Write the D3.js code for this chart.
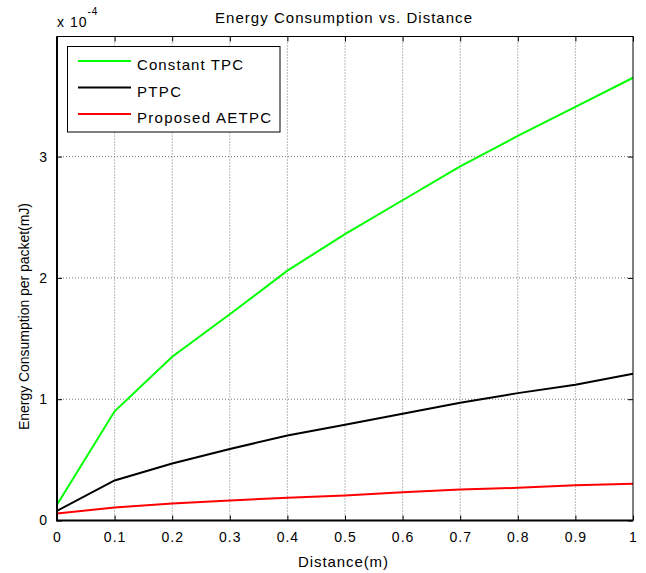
<!DOCTYPE html>
<html><head><meta charset="utf-8">
<script src="https://cdn.jsdelivr.net/npm/d3@7"></script>
<style>body{margin:0;background:#fff}svg{display:block}text{font-family:"Liberation Sans",Arial,sans-serif}</style>
</head><body>
<script>
const distances = [0,0.1,0.2,0.3,0.4,0.5,0.6,0.7,0.8,0.9,1.0];
const constantTPC = [0.13,0.90,1.35,1.70,2.06,2.36,2.64,2.92,3.17,3.41,3.65];
const ptpc = [0.08,0.33,0.47,0.59,0.70,0.79,0.88,0.97,1.05,1.12,1.21];
const aetpc = [0.058,0.107,0.14,0.165,0.187,0.206,0.233,0.256,0.269,0.291,0.302];
const seriesNames = ["Constant TPC","PTPC","Proposed AETPC"];
const seriesColors = ["#00ff00","#000000","#ff0000"];
const xTicks = [0,0.1,0.2,0.3,0.4,0.5,0.6,0.7,0.8,0.9,1];
const yTicks = [0,1,2,3];

const W=646,H=573;
const m={l:57,t:36.5,r:633,b:520.5};
const svg=d3.select("body").append("svg").attr("width",W).attr("height",H);
const x=d3.scaleLinear().domain([0,1]).range([m.l,m.r]);
const y=d3.scaleLinear().domain([0,3.99]).range([m.b,m.t]);

// grid
const g=svg.append("g");
g.selectAll(".vg").data(xTicks.slice(1,-1)).join("line")
 .attr("x1",d=>x(d)).attr("x2",d=>x(d)).attr("y1",m.t).attr("y2",m.b)
 .attr("stroke","#777").attr("stroke-width",1).attr("stroke-dasharray","1,2");
g.selectAll(".hg").data(yTicks.slice(1)).join("line")
 .attr("y1",d=>y(d)).attr("y2",d=>y(d)).attr("x1",m.l).attr("x2",m.r)
 .attr("stroke","#777").attr("stroke-width",1).attr("stroke-dasharray","1,2");

// axes
const xa=d3.axisBottom(x).tickValues(xTicks).tickSize(-5).tickPadding(12).tickFormat(d=>d===0?"0":d===1?"1":d3.format(".1f")(d));
const ya=d3.axisLeft(y).tickValues(yTicks).tickSize(-5).tickPadding(9).tickFormat(d3.format("d"));
const xg=svg.append("g").attr("transform",`translate(0,${m.b})`).call(xa);
const yg=svg.append("g").attr("transform",`translate(${m.l},0)`).call(ya);
[xg,yg].forEach(a=>{a.select(".domain").remove();a.selectAll("text").attr("font-size",14).attr("letter-spacing","1px").attr("fill","#000").attr("font-family","Liberation Sans, Arial, sans-serif");a.selectAll("line").attr("stroke","#000");});
// top & right ticks
svg.append("g").attr("transform",`translate(0,${m.t})`).call(d3.axisTop(x).tickValues(xTicks).tickSize(-5).tickFormat("")).call(a=>a.select(".domain").remove());
svg.append("g").attr("transform",`translate(${m.r},0)`).call(d3.axisRight(y).tickValues(yTicks).tickSize(-5).tickFormat("")).call(a=>a.select(".domain").remove());

// lines
const line=d3.line().x((d,i)=>x(distances[i])).y(d=>y(d));
[constantTPC,ptpc,aetpc].forEach((s,i)=>{
 svg.append("path").datum(s).attr("d",line).attr("fill","none").attr("stroke",seriesColors[i]).attr("stroke-width",2);
});

// box
svg.append("rect").attr("x",m.l).attr("y",m.t).attr("width",m.r-m.l).attr("height",m.b-m.t).attr("fill","none").attr("stroke","#000").attr("stroke-width",1);
svg.append("line").attr("x1",m.l).attr("x2",m.l).attr("y1",m.t).attr("y2",m.b+1).attr("stroke","#000").attr("stroke-width",2);
svg.append("line").attr("x1",m.l).attr("x2",m.r).attr("y1",m.b).attr("y2",m.b).attr("stroke","#000").attr("stroke-width",2);

// legend
const lg=svg.append("g");
lg.append("rect").attr("x",67.5).attr("y",46.5).attr("width",212.5).attr("height",85.5).attr("fill","#fff").attr("stroke","#000").attr("stroke-width",1);
const legW=[106,44,134];
seriesNames.forEach((n,i)=>{
 const yy=61+i*26.5;
 lg.append("line").attr("x1",78).attr("x2",131).attr("y1",yy).attr("y2",yy).attr("stroke",seriesColors[i]).attr("stroke-width",2);
 lg.append("text").attr("x",137).attr("y",yy+9).attr("font-size",15).attr("textLength",legW[i]).attr("lengthAdjust","spacing").text(n);
});

// titles
svg.append("text").attr("x",215).attr("y",22.5).attr("font-size",15).attr("textLength",257).attr("lengthAdjust","spacing").text("Energy Consumption vs. Distance");
svg.append("text").attr("x",298).attr("y",567).attr("font-size",15).attr("textLength",90).attr("lengthAdjust","spacing").text("Distance(m)");
svg.append("text").attr("transform","translate(29,430) rotate(-90)").attr("font-size",14).attr("textLength",227).attr("lengthAdjust","spacing").text("Energy Consumption per packet(mJ)");
const ex=svg.append("text").attr("x",57).attr("y",27).attr("font-size",14).attr("letter-spacing","1px");
ex.append("tspan").text("x 10");
ex.append("tspan").attr("dy",-12).attr("font-size",10).text("-4");
</script>
</body></html>
